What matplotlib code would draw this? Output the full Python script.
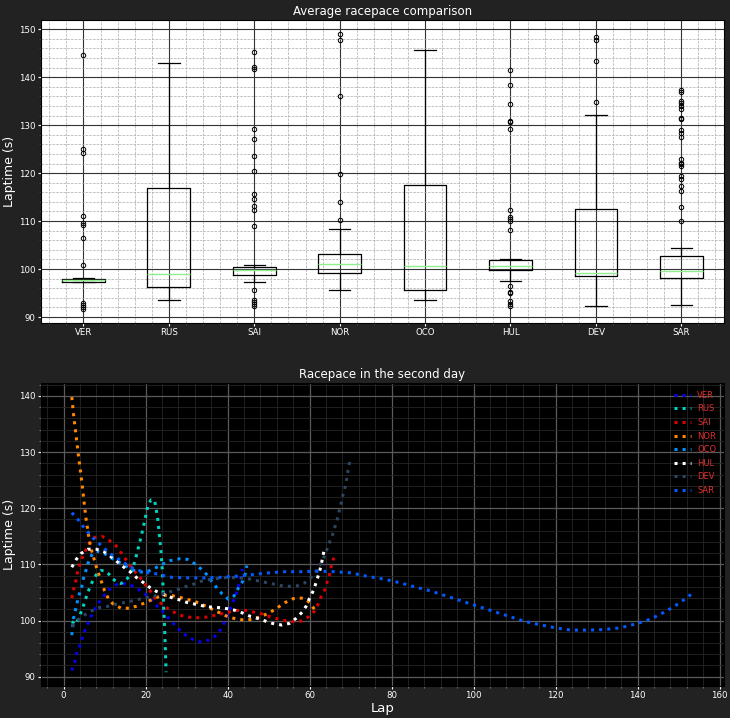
import matplotlib
matplotlib.use("Agg")
import matplotlib.pyplot as plt
from matplotlib.ticker import MultipleLocator, AutoMinorLocator

# Pilotos
drivers = ["VER", "RUS", "SAI", "NOR", "OCO", "HUL", "DEV", "SAR"]
colors = ["#0600ef", "#00d2be", "#dc0000", "#ff8700", "#0090ff", "#ffffff", "#2b4562", "#005aff"]

# Estadisticas de las cajas
q1 = [97.36, 96.2, 98.75, 99.2, 95.6, 99.8, 98.5, 98.2]
med = [97.64, 98.9, 99.7, 101.0, 100.6, 100.6, 99.2, 99.5]
q3 = [97.9, 116.9, 100.4, 103.1, 117.5, 101.9, 112.5, 102.8]
whislo = [97.2, 93.5, 97.3, 95.6, 93.5, 97.5, 92.2, 92.6]
whishi = [98.1, 142.9, 100.8, 108.4, 145.6, 102.1, 132.1, 104.4]
fliers = [
    [144.6, 125.1, 124.2, 111.1, 109.6, 109.1, 106.4, 100.8, 92.9, 92.5, 92.1, 91.7],
    [],
    [145.2, 142.2, 141.7, 129.1, 127.2, 123.5, 120.4, 115.7, 114.5, 113.1, 112.4, 109.0,
     95.6, 93.6, 93.1, 92.7, 92.4],
    [149.0, 147.7, 136.0, 119.8, 114.0, 110.3],
    [],
    [141.6, 138.4, 134.4, 130.8, 130.6, 129.2, 112.4, 110.8, 110.4, 110.1, 108.2,
     96.4, 95.3, 95.0, 93.3, 92.8, 92.4],
    [148.3, 147.8, 143.4, 134.9],
    [137.4, 136.9, 135.1, 134.6, 134.0, 133.3, 131.5, 131.3, 129.0, 128.4, 127.6,
     122.9, 122.2, 121.9, 121.4, 119.3, 118.7, 117.3, 116.2, 112.9, 110.1],
]

# Ritmo por vuelta (segundo dia)
ver_lap = [2, 2.7, 3.1, 3.85, 4.5, 5.1, 5.9, 6.7, 7.6, 8.6, 10, 11.1, 12.9, 14.5, 16.7, 18.4,
           20.1, 21.5, 22.9, 24.2, 25.6, 26.9, 28.3, 29.8, 31.6, 33.3, 35.3, 36.9, 38.2, 39.2,
           40.3, 41.4, 42.2, 42.8, 43.6]
ver_time = [91.1, 92.5, 94.0, 95.3, 96.7, 98.0, 99.4, 100.7, 102.0, 103.2, 104.6, 105.5, 106.4,
            106.6, 106.2, 105.5, 104.6, 103.6, 102.5, 101.6, 100.4, 99.4, 98.3, 97.4, 96.6, 96.2,
            96.5, 97.2, 98.3, 99.6, 101.5, 103.5, 105.0, 106.5, 109.2]

rus_lap = [2, 3, 3.8, 5, 6, 7, 8, 9, 10, 11, 12, 13, 14, 15, 16, 17, 17.8, 18.8, 19.7, 20.5,
           21.3, 22.2, 22.9, 23.3, 23.7, 24.0, 24.2, 24.4, 24.6, 24.8, 25.0]
rus_time = [99.8, 99.3, 100.6, 103.0, 105.2, 106.9, 108.2, 108.9, 108.9, 108.3, 107.4, 106.9,
            106.6, 107.0, 107.9, 109.6, 111.7, 114.6, 117.5, 120.3, 121.5, 121.4, 118.5, 115.7,
            112.7, 109.9, 106.9, 102.5, 99.6, 95.2, 90.8]

sai_lap = [2, 2.4, 2.9, 3.3, 3.8, 4.5, 5.3, 6.4, 7.5, 9.4, 11.1, 12.7, 13.9, 15.0, 16.3, 17.4,
           18.6, 19.9, 21.1, 22.2, 23.7, 25.3, 26.9, 28.7, 30.6, 32.7, 34.6, 36.6, 38.4, 40.4,
           42.3, 44.4, 46.4, 48.3, 50.3, 52.2, 54.0, 56.0, 57.9, 59.6, 61.1, 62.0, 62.9, 63.7,
           64.3, 64.9, 65.3, 65.9]
sai_time = [104.0, 105.5, 106.8, 108.3, 109.7, 111.1, 112.4, 113.9, 114.8, 115.0, 114.3, 113.4,
            112.2, 111.1, 109.7, 108.7, 107.7, 106.4, 105.3, 104.1, 103.1, 102.2, 101.5, 100.9,
            100.6, 100.5, 100.6, 100.9, 101.2, 101.5, 101.8, 101.8, 101.5, 101.2, 100.7, 100.3,
            100.0, 99.8, 99.9, 100.6, 101.6, 102.8, 104.4, 105.5, 106.9, 108.3, 109.7, 111.2]

nor_lap = [2, 2.5, 3, 3.5, 4, 4.5, 5, 5.5, 6, 6.5, 7, 7.5, 8, 9, 10, 11, 12, 14, 16, 18, 20,
           22, 24, 26, 28, 30, 32, 34, 36, 38, 40, 42, 44, 46, 48, 50, 52, 54, 56, 58, 59, 60,
           61, 61.8]
nor_time = [139.8, 136.2, 133.2, 130.1, 127.2, 124.4, 121.0, 118.0, 115.6, 113.4, 112.0, 110.8,
            109.5, 107.4, 105.3, 103.8, 103.0, 102.2, 102.2, 102.6, 103.2, 103.9, 104.5, 104.5,
            104.2, 103.8, 103.4, 102.8, 102.1, 101.4, 100.7, 100.3, 100.1, 100.2, 100.7, 101.3,
            102.2, 103.2, 103.9, 104.0, 103.8, 103.2, 102.2, 101.3]

oco_lap = [2, 2.4, 2.8, 3.3, 3.8, 4.4, 4.8, 5.4, 5.9, 6.8, 8, 10, 12, 14, 16, 18, 20, 22, 24,
           26.1, 28.3, 30.2, 32.0, 33.5, 34.9, 36.1, 37.3, 38.6, 40.2, 41.6, 42.2, 43.0, 43.7,
           44.3, 44.7]
oco_time = [97.4, 100.3, 101.6, 103.2, 104.6, 105.9, 107.4, 108.8, 110.1, 111.6, 112.4, 111.9,
            111.0, 110.2, 109.3, 108.7, 108.6, 109.2, 110.0, 110.7, 111.0, 110.9, 110.1, 109.2,
            108.2, 107.0, 105.9, 104.8, 103.8, 104.4, 105.3, 106.2, 107.0, 108.3, 109.8]

hul_lap = [2, 3.1, 4.2, 5.9, 8.0, 10.0, 11.7, 13.2, 14.7, 16.2, 17.7, 19.4, 21.0, 22.6, 24.3,
           26.3, 28.2, 30.2, 32.2, 34.1, 35.9, 37.9, 40.0, 42.0, 43.8, 45.7, 47.8, 49.6, 51.4,
           53.3, 55.1, 56.7, 58.2, 59.2, 60.0, 60.9, 61.6, 62.2, 62.7, 63.1, 63.5]
hul_time = [109.5, 110.9, 111.9, 112.7, 112.7, 112.2, 111.3, 110.4, 109.5, 108.7, 107.7, 106.8,
            105.9, 105.2, 104.7, 104.1, 103.7, 103.2, 102.9, 102.6, 102.4, 102.3, 102.1, 101.8,
            101.3, 100.7, 100.3, 99.8, 99.4, 99.2, 99.5, 100.4, 101.5, 102.6, 104.0, 105.3,
            106.8, 108.2, 109.5, 110.9, 112.4]

dev_lap = [2, 3.5, 5.1, 6.8, 8.6, 10.6, 12.7, 14.7, 16.7, 18.4, 20.4, 22.4, 24.3, 26.3, 28.2,
           30.0, 31.8, 33.6, 35.5, 37.6, 40, 43.3, 45.3, 47.2, 49.2, 51.2, 53.1, 55.1, 57.0,
           58.8, 60.4, 61.6, 62.7, 63.5, 64.3, 65.0, 65.7, 66.3, 66.9, 67.3, 67.8, 68.2, 68.7,
           69.1, 69.4, 69.8]
dev_time = [99.0, 100.1, 101.0, 101.7, 102.3, 102.5, 102.9, 103.2, 103.5, 103.8, 104.1, 104.4,
            104.8, 105.2, 105.6, 106.1, 106.5, 107.0, 107.3, 107.5, 107.7, 107.6, 107.4, 107.1,
            106.8, 106.5, 106.2, 106.1, 106.2, 106.7, 107.7, 108.8, 110.1, 111.3, 112.8, 114.2,
            115.5, 117.0, 118.4, 119.7, 121.2, 122.6, 123.9, 125.4, 126.9, 128.3]

sar_lap = [2, 3.4, 4.6, 5.9, 7.2, 8.7, 10.0, 11.4, 13.1, 14.7, 16.7, 18.9, 20.8, 22.9, 24.5,
           26.4, 30.4, 34.3, 38.3, 42.2, 46.3, 50.1, 54.0, 58.0, 62.0, 66.0, 70.0, 73.9, 78.0,
           81.7, 85.6, 89.4, 93.2, 97.0, 100.8, 104.6, 108.4, 112.2, 115.9, 119.9, 123.8, 127.8,
           131.9, 135.7, 139.6, 143.3, 146.8, 150.2, 153.5]
sar_time = [119.2, 118.1, 116.9, 115.8, 114.7, 113.7, 112.8, 111.9, 111.1, 110.3, 109.4, 108.8,
            108.5, 108.3, 108.0, 107.7, 107.6, 107.6, 107.7, 107.9, 108.2, 108.5, 108.7, 108.7,
            108.8, 108.7, 108.5, 107.9, 107.4, 106.8, 106.0, 105.3, 104.4, 103.5, 102.6, 101.7,
            100.8, 99.9, 99.3, 98.7, 98.3, 98.3, 98.4, 98.7, 99.4, 100.3, 101.6, 103.1, 104.9]

laps = [ver_lap, rus_lap, sai_lap, nor_lap, oco_lap, hul_lap, dev_lap, sar_lap]
times = [ver_time, rus_time, sai_time, nor_time, oco_time, hul_time, dev_time, sar_time]

bg = "#232222"
fig, (ax1, ax2) = plt.subplots(2, 1, figsize=(7.3, 7.18), dpi=100, facecolor=bg)
fig.subplots_adjust(left=0.0558, right=0.9918, top=0.972, bottom=0.0446, hspace=0.2)

# --- Grafico de cajas ---
stats = []
for i, d in enumerate(drivers):
    stats.append({"label": d, "q1": q1[i], "med": med[i], "q3": q3[i],
                  "whislo": whislo[i], "whishi": whishi[i], "fliers": fliers[i]})
ax1.set_facecolor("white")
ax1.bxp(stats, widths=0.5,
        boxprops=dict(color="black", linewidth=0.9),
        whiskerprops=dict(color="black", linewidth=0.9),
        capprops=dict(color="black", linewidth=0.9),
        medianprops=dict(color="#90ee90", linewidth=1.0),
        flierprops=dict(marker="o", markerfacecolor="none", markeredgecolor="black",
                        markersize=3.2, markeredgewidth=0.7))
ax1.set_ylim(88.8, 151.9)
ax1.yaxis.set_major_locator(MultipleLocator(10))
ax1.yaxis.set_minor_locator(MultipleLocator(2))
ax1.xaxis.set_minor_locator(MultipleLocator(0.2))
ax1.grid(which="major", color="#333333", linestyle="-", linewidth=0.8)
ax1.grid(which="minor", color="#aaaaaa", linestyle="--", linewidth=0.5)
ax1.set_axisbelow(True)
ax1.set_title("Average racepace comparison", color="white", fontsize=8.5, pad=4)
ax1.set_ylabel("Laptime (s)", color="white", fontsize=9, labelpad=2)
ax1.tick_params(colors="white", labelsize=6.2, length=2.1, pad=1.8)
ax1.tick_params(which="minor", colors="#444444", length=1.2)

# --- Ritmo por vuelta ---
ax2.set_facecolor("black")
for i, d in enumerate(drivers):
    ax2.plot(laps[i], times[i], linestyle=":", linewidth=2.2, color=colors[i], label=d)
ax2.xaxis.set_major_locator(MultipleLocator(20))
ax2.yaxis.set_major_locator(MultipleLocator(10))
ax2.xaxis.set_minor_locator(AutoMinorLocator(5))
ax2.yaxis.set_minor_locator(AutoMinorLocator(5))
ax2.grid(which="major", color="#5a5a5a", linestyle="-", linewidth=0.9)
ax2.grid(which="minor", color="#262626", linestyle="-", linewidth=0.6)
ax2.set_title("Racepace in the second day", color="white", fontsize=8.5, pad=4)
ax2.set_xlabel("Lap", color="white", fontsize=9.5, labelpad=1)
ax2.set_ylabel("Laptime (s)", color="white", fontsize=9, labelpad=2)
ax2.tick_params(colors="white", labelsize=6.2, length=2.1, pad=1.8)
ax2.tick_params(which="minor", colors="#888888", length=1.2)
leg = ax2.legend(loc="upper right", frameon=False, fontsize=6, labelcolor="#e03030",
                 handlelength=2.0, labelspacing=0.55)

plt.savefig("out.png", facecolor=bg)
